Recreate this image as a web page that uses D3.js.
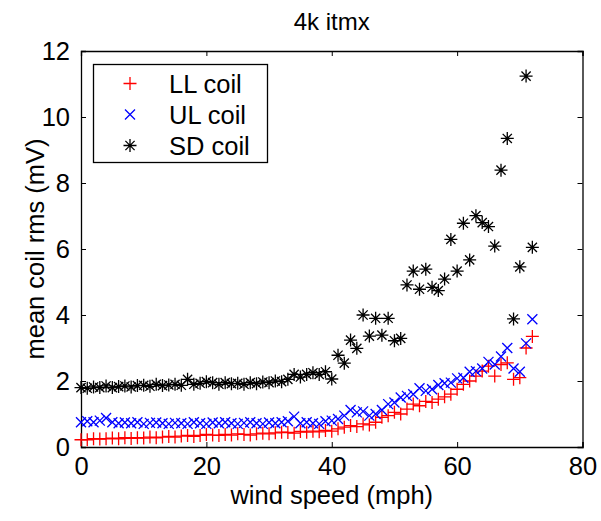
<!DOCTYPE html>
<html><head><meta charset="utf-8">
<script src="https://cdn.jsdelivr.net/npm/d3@7"></script>
<style>body{margin:0;background:#fff}svg{display:block}text{font-family:"Liberation Sans",Arial,sans-serif}</style>
</head><body><svg id="c" width="601" height="521"></svg>
<script>
const windSpeed = d3.range(0, 73);
const llCoil = [0.22,0.22,0.25,0.24,0.25,0.27,0.25,0.28,0.26,0.28,0.27,0.3,0.28,0.3,0.32,0.3,0.33,0.35,0.32,0.35,0.38,0.36,0.35,0.38,0.36,0.4,0.38,0.36,0.4,0.42,0.4,0.43,0.45,0.44,0.42,0.47,0.45,0.48,0.46,0.5,0.48,0.55,0.6,0.65,0.62,0.7,0.67,0.75,0.9,0.95,1.05,1.0,1.15,1.3,1.25,1.38,1.35,1.45,1.52,1.6,1.75,1.9,2.0,2.15,2.3,2.45,2.15,2.5,2.55,2.05,2.1,3.0,3.35];
const ulCoil = [0.75,0.78,0.75,0.8,0.88,0.75,0.72,0.74,0.72,0.75,0.7,0.73,0.74,0.72,0.7,0.73,0.72,0.7,0.75,0.72,0.7,0.74,0.72,0.75,0.72,0.7,0.73,0.75,0.72,0.7,0.74,0.72,0.75,0.78,0.92,0.72,0.75,0.72,0.7,0.78,0.8,0.85,0.95,1.12,1.05,1.08,0.95,1.0,1.12,1.3,1.35,1.5,1.55,1.6,1.78,1.7,1.75,1.88,1.93,1.95,2.08,2.1,2.28,2.3,2.38,2.58,2.5,2.74,3.0,2.38,2.28,3.14,3.87];
const sdCoil = [1.8,1.78,1.82,1.8,1.85,1.8,1.83,1.85,1.82,1.86,1.87,1.84,1.9,1.86,1.88,1.9,1.87,2.05,1.9,1.93,1.98,1.95,1.9,1.95,1.92,1.93,1.9,1.95,1.92,1.97,1.95,2.0,1.98,2.05,2.2,2.12,2.2,2.25,2.2,2.28,2.06,2.78,2.54,3.24,2.99,4.0,3.36,3.9,3.39,3.9,3.22,3.29,4.91,5.33,4.78,5.39,4.84,4.74,5.09,6.29,5.33,6.78,5.67,7.01,6.8,6.68,6.09,8.39,9.35,3.88,5.46,11.24,6.05];
const xTicks = [0,20,40,60,80];
const yTicks = [0,2,4,6,8,10,12];
const seriesNames = ["LL coil","UL coil","SD coil"];
const seriesColors = ["#ff0000","#0000ff","#000000"];
const seriesMarkers = ["plus","cross","star"];

const svg = d3.select("#c");
const L=81, R=582.5, T=51, B=447;
const x = d3.scaleLinear().domain([0,80]).range([L,R]);
const y = d3.scaleLinear().domain([0,12]).range([B,T]);
const fs = 25.5;

function marker(g, type, color){
  const p = d3.path();
  const a=6.5, d=4.6;
  if(type==="plus"||type==="star"){p.moveTo(-a,0);p.lineTo(a,0);p.moveTo(0,-a);p.lineTo(0,a);}
  if(type==="cross"){p.moveTo(-5,-5);p.lineTo(5,5);p.moveTo(-5,5);p.lineTo(5,-5);}
  if(type==="star"){p.moveTo(-d,-d);p.lineTo(d,d);p.moveTo(-d,d);p.lineTo(d,-d);}
  g.append("path").attr("d",p.toString()).attr("stroke",color).attr("stroke-width",1.3).attr("fill","none");
}

const gx = svg.append("g").attr("transform",`translate(0,${B})`).call(d3.axisBottom(x).tickValues(xTicks).tickSize(-5).tickPadding(10));
const gxt = svg.append("g").attr("transform",`translate(0,${T})`).call(d3.axisTop(x).tickValues(xTicks).tickSize(-5).tickFormat(""));
const gy = svg.append("g").attr("transform",`translate(${L},0)`).call(d3.axisLeft(y).tickValues(yTicks).tickSize(-5).tickPadding(11));
const gyr = svg.append("g").attr("transform",`translate(${R},0)`).call(d3.axisRight(y).tickValues(yTicks).tickSize(-5).tickFormat(""));
[gx,gxt,gy,gyr].forEach(g=>{
  g.selectAll("path.domain").attr("stroke","#000").attr("stroke-width",1.3);
  g.selectAll(".tick line").attr("stroke","#000").attr("stroke-width",1);
  g.selectAll("text").attr("font-size",fs).attr("fill","#000").attr("font-family","Liberation Sans, Arial, sans-serif");
});

const data = [llCoil, ulCoil, sdCoil];
data.forEach((vals,i)=>{
  const g = svg.append("g");
  vals.forEach((v,j)=>{
    const m = g.append("g").attr("transform",`translate(${x(windSpeed[j])},${y(v)})`);
    marker(m, seriesMarkers[i], seriesColors[i]);
  });
});

const lg = svg.append("g");
lg.append("rect").attr("x",93.5).attr("y",64.5).attr("width",174).attr("height",98).attr("fill","#fff").attr("stroke","#000").attr("stroke-width",1.3);
seriesNames.forEach((n,i)=>{
  const yy = 83.5 + i*31;
  const m = lg.append("g").attr("transform",`translate(130,${yy})`);
  marker(m, seriesMarkers[i], seriesColors[i]);
  lg.append("text").attr("x",169).attr("y",yy).attr("dy","0.36em").attr("font-size",fs).text(n);
});

svg.append("text").attr("x",(L+R)/2).attr("y",30).attr("text-anchor","middle").attr("font-size",24).text("4k itmx");
svg.append("text").attr("x",(L+R)/2).attr("y",504).attr("text-anchor","middle").attr("font-size",fs).text("wind speed (mph)");
svg.append("text").attr("transform",`translate(44,${(T+B)/2}) rotate(-90)`).attr("text-anchor","middle").attr("font-size",fs).text("mean coil rms (mV)");
</script></body></html>
